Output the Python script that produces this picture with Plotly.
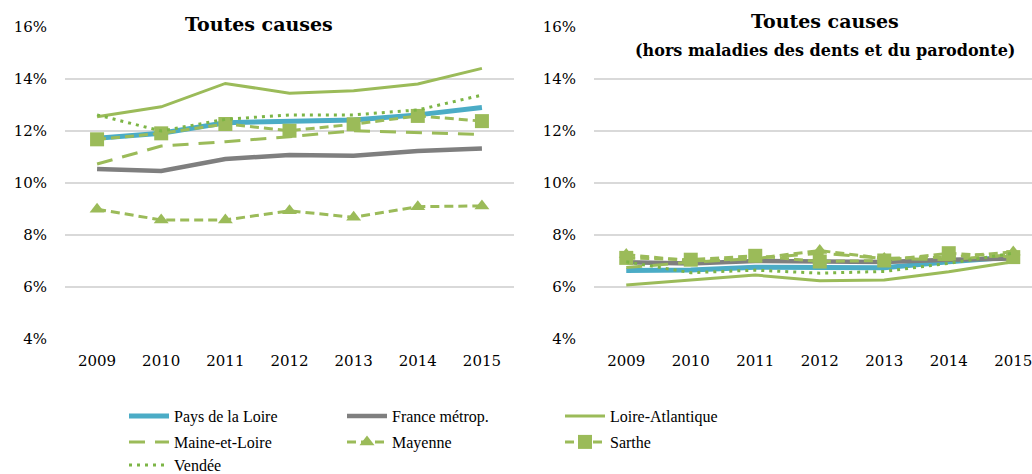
import plotly.graph_objects as go

years = [2009, 2010, 2011, 2012, 2013, 2014, 2015]
series_names = ["Pays de la Loire", "France métrop.", "Loire-Atlantique",
                "Maine-et-Loire", "Mayenne", "Sarthe", "Vendée"]

# Toutes causes (%)
left_pays = [11.72, 11.91, 12.32, 12.36, 12.42, 12.62, 12.90]
left_france = [10.54, 10.46, 10.92, 11.08, 11.05, 11.23, 11.33]
left_loire_atl = [12.55, 12.93, 13.83, 13.45, 13.55, 13.81, 14.41]
left_maine = [10.73, 11.42, 11.59, 11.78, 12.01, 11.94, 11.87]
left_mayenne = [8.99, 8.58, 8.58, 8.93, 8.68, 9.09, 9.12]
left_sarthe = [11.68, 11.91, 12.27, 12.01, 12.26, 12.58, 12.38]
left_vendee = [12.62, 12.00, 12.45, 12.62, 12.62, 12.81, 13.38]

# Toutes causes hors maladies des dents et du parodonte (%)
right_pays = [6.63, 6.65, 6.76, 6.74, 6.74, 6.97, 7.15]
right_france = [6.95, 6.90, 7.00, 7.00, 6.96, 7.05, 7.10]
right_loire_atl = [6.08, 6.27, 6.46, 6.24, 6.27, 6.59, 6.97]
right_maine = [6.75, 6.95, 7.10, 7.30, 7.10, 7.05, 7.25]
right_mayenne = [7.25, 7.00, 7.10, 7.40, 7.10, 7.15, 7.35]
right_sarthe = [7.12, 7.05, 7.20, 6.98, 7.02, 7.30, 7.15]
right_vendee = [6.97, 6.55, 6.65, 6.53, 6.60, 6.91, 7.30]

y_ticks = [4, 6, 8, 10, 12, 14, 16]
y_ticktext = ["4%", "6%", "8%", "10%", "12%", "14%", "16%"]

title_left = "Toutes causes"
title_right_1 = "Toutes causes"
title_right_2 = "(hors maladies des dents et du parodonte)"

GREEN = "#9BBB59"
DOT_GREEN = "#7DB546"
BLUE = "#4BACC6"
GRAY = "#7F7F7F"

styles = {
    "Pays de la Loire": dict(line=dict(color=BLUE, width=5), mode="lines", legend="legend"),
    "France métrop.": dict(line=dict(color=GRAY, width=4.5), mode="lines", legend="legend"),
    "Loire-Atlantique": dict(line=dict(color=GREEN, width=3), mode="lines", legend="legend"),
    "Maine-et-Loire": dict(line=dict(color=GREEN, width=3, dash="16px,10px"), mode="lines", legend="legend2"),
    "Mayenne": dict(line=dict(color=GREEN, width=3, dash="9px,5px"), mode="lines+markers",
                    marker=dict(symbol="triangle-up", size=13, color=GREEN), legend="legend2"),
    "Sarthe": dict(line=dict(color=GREEN, width=3, dash="9px,5px"), mode="lines+markers",
                   marker=dict(symbol="square", size=14, color=GREEN), legend="legend2"),
    "Vendée": dict(line=dict(color=DOT_GREEN, width=3, dash="3px,5px"), mode="lines", legend="legend3"),
}

left_data = [left_pays, left_france, left_loire_atl, left_maine, left_mayenne, left_sarthe, left_vendee]
right_data = [right_pays, right_france, right_loire_atl, right_maine, right_mayenne, right_sarthe, right_vendee]

fig = go.Figure()
for name, ys in zip(series_names, left_data):
    st = styles[name]
    fig.add_trace(go.Scatter(x=years, y=ys, name=name, legendgroup=name, xaxis="x", yaxis="y",
                             showlegend=True, hoverinfo="skip", **st))
for name, ys in zip(series_names, right_data):
    st = dict(styles[name])
    st.pop("legend")
    fig.add_trace(go.Scatter(x=years, y=ys, name=name, legendgroup=name, xaxis="x2", yaxis="y2",
                             showlegend=False, hoverinfo="skip", **st))

W, H = 1032, 474
px = lambda v: v / W
py = lambda v: (H - v) / H

tick_font = dict(family="DejaVu Serif", size=15, color="#000")
grid = dict(showgrid=True, gridcolor="#D9D9D9", gridwidth=1.5, zeroline=False, showline=False)

yaxis_common = dict(range=[4, 16], tickvals=y_ticks, ticktext=y_ticktext, tickfont=tick_font,
                    ticks="", ticklabelstandoff=17, automargin=False, domain=[py(339), py(27)], **grid)
xaxis_common = dict(tickvals=years, ticktext=[str(y) for y in years], tickfont=tick_font, ticks="",
                    showgrid=False, zeroline=False, showline=False, automargin=False,
                    ticklabelstandoff=11, ticklabeloverflow="allow")

legend_common = dict(orientation="h", entrywidth=163, entrywidthmode="pixels",
                     font=dict(family="Liberation Serif", size=16, color="#000"),
                     bgcolor="rgba(0,0,0,0)", xanchor="left", yanchor="middle",
                     xref="container", yref="container",
                     itemwidth=40, traceorder="normal", tracegroupgap=0)

fig.update_layout(
    width=W, height=H,
    margin=dict(l=0, r=0, t=0, b=0, autoexpand=False),
    paper_bgcolor="white", plot_bgcolor="white",
    xaxis=dict(domain=[px(65), px(514)], range=[2008.5, 2015.5], anchor="y", **xaxis_common),
    yaxis=dict(anchor="x", **yaxis_common),
    xaxis2=dict(domain=[px(594), 1.0], range=[2008.5, 2008.5 + (1032 - 594) / 64.5], anchor="y2", **xaxis_common),
    yaxis2=dict(anchor="x2", **yaxis_common),
    legend=dict(x=px(124), y=py(416), **legend_common),
    legend2=dict(x=px(124), y=py(442), **legend_common),
    legend3=dict(x=px(124), y=py(465), **legend_common),
    shapes=[
        dict(type="rect", xref="paper", yref="paper", x0=px(89), x1=px(431), y0=py(42), y1=py(8),
             fillcolor="white", line=dict(width=0), layer="above"),
        dict(type="rect", xref="paper", yref="paper", x0=px(624), x1=px(1028), y0=py(64), y1=py(4),
             fillcolor="white", line=dict(width=0), layer="above"),
    ],
    annotations=[
        dict(text="<b>" + title_left + "</b>", xref="paper", yref="paper", x=px(259), y=py(24),
             xanchor="center", yanchor="middle", showarrow=False,
             font=dict(family="DejaVu Serif", size=19, color="#000")),
        dict(text="<b>" + title_right_1 + "</b>", xref="paper", yref="paper", x=px(825), y=py(21),
             xanchor="center", yanchor="middle", showarrow=False,
             font=dict(family="DejaVu Serif", size=19, color="#000")),
        dict(text="<b>" + title_right_2 + "</b>", xref="paper", yref="paper", x=px(825), y=py(50),
             xanchor="center", yanchor="middle", showarrow=False,
             font=dict(family="DejaVu Serif", size=16, color="#000")),
    ],
)

fig.write_html(
    "out.html",
    config={"displayModeBar": False},
    post_script="document.body.style.margin='0';document.body.style.overflow='hidden';",
)
